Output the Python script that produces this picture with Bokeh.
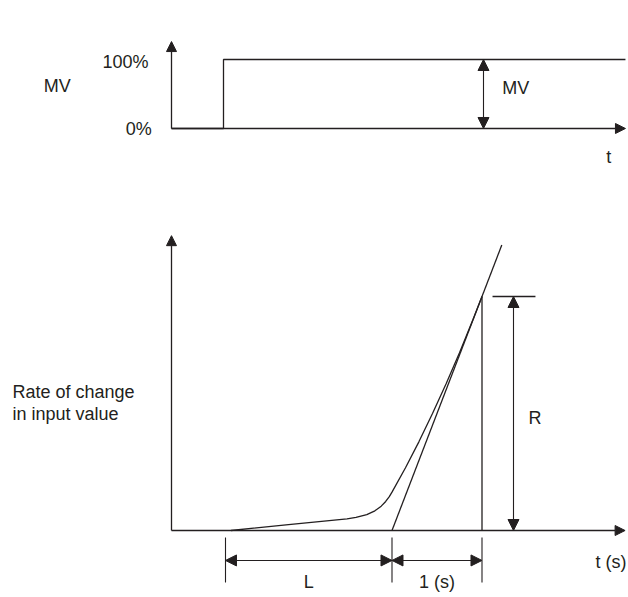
from bokeh.plotting import figure
from bokeh.models import Range1d, Arrow, NormalHead
from bokeh.layouts import column
from bokeh.embed import file_html
from bokeh.resources import INLINE
from bokeh.core.properties import value

INK = "#231f20"
FONT = "Liberation Sans"

# ---------------- data: manipulated value (step) ----------------
mv_t = [0.0, 1.0, 1.0, 8.73]
mv_pct = [0, 0, 100, 100]
mv_axis_t_end = 8.73
mv_axis_pct_end = 126
mv_marker_t = 6.0
mv_tick_labels = ["100%", "0%"]

# ---------------- data: response (rate of change) ----------------
resp_t = [0.66, 1.30, 1.95, 2.05, 2.17, 2.26, 2.33, 2.38, 2.42, 2.45,
          2.60, 2.75, 2.90, 3.05, 3.20, 3.35, 3.45]
resp_rate = [0.0, 0.025, 0.050, 0.056, 0.068, 0.084, 0.104, 0.124, 0.145, 0.164,
             0.268, 0.380, 0.500, 0.626, 0.760, 0.902, 1.0]
tangent_t = [2.45, 3.67]
tangent_rate = [0.0, 1.22]
dead_start = 0.60
dead_end = 2.45          # end of L
one_sec_end = 3.45       # dead_end + 1 s
R_value = 1.0
resp_axis_t_end = 5.04
resp_axis_rate_end = 1.26

LW = 1.3


def head(size):
    return NormalHead(size=size, fill_color=INK, line_color=INK, line_width=1)


def base_fig(w, h, xr, yr):
    p = figure(width=w, height=h, x_range=Range1d(*xr), y_range=Range1d(*yr),
               output_backend="svg", toolbar_location=None, min_border=0,
               x_axis_location=None, y_axis_location=None)
    p.grid.visible = False
    p.outline_line_color = None
    p.background_fill_color = "white"
    p.border_fill_color = "white"
    return p


# ---------------- top panel ----------------
top = base_fig(628, 200, (-3.2885, 8.7885), (-104.35, 185.51))
top.add_layout(Arrow(x_start=0, y_start=0, x_end=0, y_end=mv_axis_pct_end,
                     end=head(10), line_color=INK, line_width=LW))
top.add_layout(Arrow(x_start=0, y_start=0, x_end=mv_axis_t_end, y_end=0,
                     end=head(10), line_color=INK, line_width=LW))
top.line(mv_t, mv_pct, line_color=INK, line_width=LW)
top.add_layout(Arrow(x_start=mv_marker_t, y_start=mv_pct[0], x_end=mv_marker_t, y_end=mv_pct[-1],
                     start=head(11), end=head(11), line_color=INK, line_width=1.1))

txt = dict(text_font=value(FONT), text_font_size="18px", text_color=INK,
           text_baseline="alphabetic")
top.text(x=[-0.442, -0.38], y=[97.1, -1.4], text=mv_tick_labels, text_align="right", **txt)
top.text(x=[-2.456, 6.36], y=[60.9, 59.4], text=["MV", "MV"], text_align="left", **txt)
top.text(x=[8.41], y=[-42.0], text=["t"], text_align="center", **txt)

# ---------------- bottom panel ----------------
bot = base_fig(628, 397, (-1.9, 5.0778), (-0.28632, 1.41026))
bot.add_layout(Arrow(x_start=0, y_start=0, x_end=0, y_end=resp_axis_rate_end,
                     end=head(10), line_color=INK, line_width=LW))
bot.add_layout(Arrow(x_start=0, y_start=0, x_end=resp_axis_t_end, y_end=0,
                     end=head(10), line_color=INK, line_width=LW))
bot.line(resp_t, resp_rate, line_color=INK, line_width=LW)
bot.line(tangent_t, tangent_rate, line_color=INK, line_width=LW)
bot.segment(x0=[one_sec_end, 3.567], y0=[0, R_value], x1=[one_sec_end, 4.044], y1=[R_value, R_value],
            line_color=INK, line_width=LW)
bot.add_layout(Arrow(x_start=3.80, y_start=0, x_end=3.80, y_end=R_value,
                     start=head(11), end=head(11), line_color=INK, line_width=1.1))
dim_x = [dead_start, dead_end, one_sec_end]
bot.segment(x0=dim_x, y0=[-0.03] * 3, x1=dim_x, y1=[-0.222] * 3, line_color=INK, line_width=1.1)
bot.add_layout(Arrow(x_start=dead_start, y_start=-0.128, x_end=dead_end, y_end=-0.128,
                     start=head(11), end=head(11), line_color=INK, line_width=1.1))
bot.add_layout(Arrow(x_start=dead_end, y_start=-0.128, x_end=one_sec_end, y_end=-0.128,
                     start=head(11), end=head(11), line_color=INK, line_width=1.1))

bot.text(x=[3.967], y=[0.479], text=["R"], text_align="left", **txt)
bot.text(x=[4.711], y=[-0.134], text=["t (s)"], text_align="left", **txt)
bot.text(x=[(dead_start + dead_end) / 2, (dead_end + one_sec_end) / 2], y=[-0.222, -0.222],
         text=["L", "1 (s)"], text_align="center", **txt)
bot.text(x=[-1.7667, -1.7667], y=[0.590, 0.500], text=["Rate of change", "in input value"],
         text_align="left", **txt)

layout = column(top, bot, spacing=0)

with open("out.html", "w") as f:
    f.write(file_html(layout, INLINE))
